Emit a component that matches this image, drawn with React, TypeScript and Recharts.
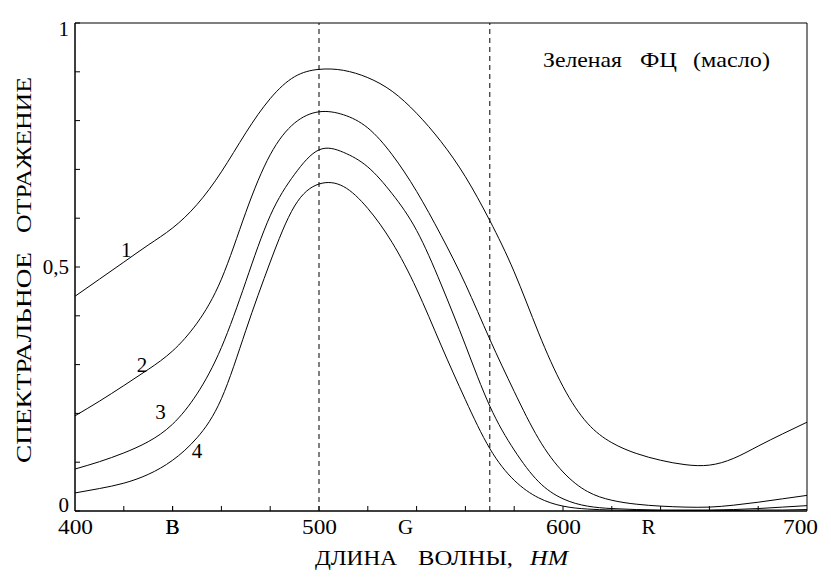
import React from "react";
import {
  LineChart,
  Line,
  XAxis,
  YAxis,
  ReferenceLine,
  ReferenceArea,
  ReferenceDot,
  Label,
} from "recharts";

// wavelength, nm
const wavelengths = [
  400, 410, 420, 430, 440, 450, 460, 470, 480, 490, 500, 510, 520, 530, 540, 550,
  560, 570, 580, 590, 600, 610, 620, 630, 640, 650, 660, 670, 680, 690, 700,
];

// spectral reflectance, curves 1..4
const curve1 = [
  0.44, 0.475, 0.51, 0.545, 0.58, 0.628, 0.695, 0.775, 0.845, 0.89, 0.905, 0.903, 0.888, 0.86,
  0.815, 0.757, 0.685, 0.595, 0.49, 0.365, 0.255, 0.18, 0.14, 0.118, 0.104, 0.095, 0.094,
  0.108, 0.133, 0.158, 0.182,
];
const curve2 = [
  0.195, 0.225, 0.257, 0.29, 0.328, 0.385, 0.475, 0.612, 0.73, 0.795, 0.818, 0.812, 0.785,
  0.73, 0.655, 0.565, 0.465, 0.352, 0.245, 0.148, 0.08, 0.04, 0.022, 0.014, 0.01, 0.008, 0.008,
  0.012, 0.018, 0.025, 0.032,
];
const curve3 = [
  0.086, 0.101, 0.119, 0.142, 0.178, 0.24, 0.335, 0.47, 0.605, 0.69, 0.74, 0.735, 0.705, 0.65,
  0.575, 0.465, 0.34, 0.215, 0.125, 0.06, 0.025, 0.01, 0.005, 0.003, 0.002, 0.002, 0.002,
  0.003, 0.005, 0.008, 0.011,
];
const curve4 = [
  0.037, 0.046, 0.057, 0.075, 0.104, 0.15, 0.23, 0.37, 0.51, 0.625, 0.67, 0.665, 0.62, 0.55,
  0.455, 0.34, 0.228, 0.128, 0.063, 0.027, 0.01, 0.004, 0.002, 0.001, 0.001, 0.001, 0.001,
  0.001, 0.002, 0.002, 0.003,
];

const xTicks = [
  400, 420, 440, 460, 480, 500, 520, 540, 560, 580, 600, 620, 640, 660, 680, 700,
];
const xTickLabels: Record<number, string> = { 400: "400", 500: "500", 600: "600", 700: "700" };
// colour band letters under the axis
const bandLetters = [
  { nm: 440, text: "B" },
  { nm: 535.5, text: "G" },
  { nm: 635, text: "R" },
];
const yTicks = [0, 0.1, 0.2, 0.3, 0.4, 0.5, 0.6, 0.7, 0.8, 0.9, 1];
const yTickLabels: Record<number, string> = { 0: "0", 0.5: "0,5", 1: "1" };
const markerLines = [500, 570];
const curveLabels = [
  { nm: 421, v: 0.535, text: "1" },
  { nm: 427.5, v: 0.3, text: "2" },
  { nm: 435, v: 0.203, text: "3" },
  { nm: 450, v: 0.123, text: "4" },
];

const data = wavelengths.map((nm, i) => ({
  nm,
  c1: curve1[i],
  c2: curve2[i],
  c3: curve3[i],
  c4: curve4[i],
}));

const FONT = "'Liberation Serif', 'Times New Roman', serif";
const txt = { fontFamily: FONT, fill: "#000" };
// the source picture is a bit wider than the font, so words get a fixed length
const fit = (len: number) => ({ textLength: len, lengthAdjust: "spacingAndGlyphs" as const });

const XTick = (props: any) => {
  const { x, y, payload } = props;
  const v = payload.value;
  const letter = bandLetters.find((b) => b.nm === v);
  const isTick = xTicks.includes(v);
  const num = xTickLabels[v];
  const dx = v === 700 ? -7 : 0;
  return (
    <g>
      {isTick && v !== 400 && v !== 700 && (
        <line x1={x} y1={y} x2={x} y2={y - 5} stroke="#000" />
      )}
      {num && (
        <text x={x + dx - 17} y={y + 23} fontSize={20} style={txt} {...fit(35)}>
          {num}
        </text>
      )}
      {letter && (
        <text x={x} y={y + 23} textAnchor="middle" fontSize={21} style={txt}>
          {letter.text}
        </text>
      )}
    </g>
  );
};

const yLabelShift: Record<number, number> = { 0: 1, 0.5: 7, 1: 13 };

const YTick = (props: any) => {
  const { x, y, payload } = props;
  const label = yTickLabels[payload.value];
  return (
    <g>
      <line x1={x} y1={y} x2={x + 5} y2={y} stroke="#000" />
      {label && (
        <text x={x - 6} y={y + yLabelShift[payload.value]} textAnchor="end" fontSize={21} style={txt}>
          {label}
        </text>
      )}
    </g>
  );
};

const XTitle = () => (
  <g fontSize={21} style={txt}>
    <text x={315} y={565} {...fit(82)}>ДЛИНА</text>
    <text x={418} y={565} {...fit(95)}>ВОЛНЫ,</text>
    <text x={530} y={565} fontStyle="italic" {...fit(38)}>НМ</text>
  </g>
);

const YTitle = () => (
  <g transform="translate(31, 0) rotate(-90)" fontSize={22} style={txt}>
    <text x={-463} y={0} {...fit(211)}>СПЕКТРАЛЬНОЕ</text>
    <text x={-233} y={0} {...fit(156)}>ОТРАЖЕНИЕ</text>
  </g>
);

const ChartTitle = () => (
  <g fontSize={21} style={txt}>
    <text x={543} y={67} {...fit(79)}>Зеленая</text>
    <text x={640} y={67} {...fit(37)}>ФЦ</text>
    <text x={693} y={67} {...fit(77)}>(масло)</text>
  </g>
);

export default function App() {
  const allXTicks = [...xTicks, ...bandLetters.map((b) => b.nm)].sort((a, b) => a - b);
  return (
    <div style={{ position: "absolute", left: 0, top: 0, width: 831, height: 585, background: "#fff" }}>
      <LineChart
        width={831}
        height={585}
        data={data}
        margin={{ top: 23, right: 24, bottom: 0, left: 35 }}
      >
        <XAxis
          dataKey="nm"
          type="number"
          domain={[400, 700]}
          ticks={allXTicks}
          interval={0}
          tickLine={false}
          tickSize={0}
          tickMargin={0}
          height={74}
          stroke="#000"
          tick={<XTick />}
        >
          <Label content={<XTitle />} />
        </XAxis>
        <YAxis
          type="number"
          domain={[0, 1]}
          ticks={yTicks}
          interval={0}
          tickLine={false}
          tickSize={0}
          tickMargin={0}
          width={40}
          stroke="#000"
          tick={<YTick />}
        >
          <Label content={<YTitle />} />
        </YAxis>
        <ReferenceArea x1={400} x2={700} y1={0} y2={1} stroke="#000" fill="none" strokeWidth={1} />
        {markerLines.map((nm) => (
          <ReferenceLine key={nm} x={nm} stroke="#000" strokeDasharray="5 4" />
        ))}
        <Line type="natural" dataKey="c1" stroke="#000" strokeWidth={1} dot={false} isAnimationActive={false} />
        <Line type="natural" dataKey="c2" stroke="#000" strokeWidth={1} dot={false} isAnimationActive={false} />
        <Line type="natural" dataKey="c3" stroke="#000" strokeWidth={1} dot={false} isAnimationActive={false} />
        <Line type="natural" dataKey="c4" stroke="#000" strokeWidth={1} dot={false} isAnimationActive={false} />
        {curveLabels.map((c) => (
          <ReferenceDot
            key={c.text}
            x={c.nm}
            y={c.v}
            r={0}
            stroke="none"
            label={{ value: c.text, position: "center", fontSize: 21, fontFamily: FONT, fill: "#000" }}
          />
        ))}
        <ReferenceDot x={638.5} y={0.93} r={0} stroke="none" label={<ChartTitle />} />
      </LineChart>
    </div>
  );
}
